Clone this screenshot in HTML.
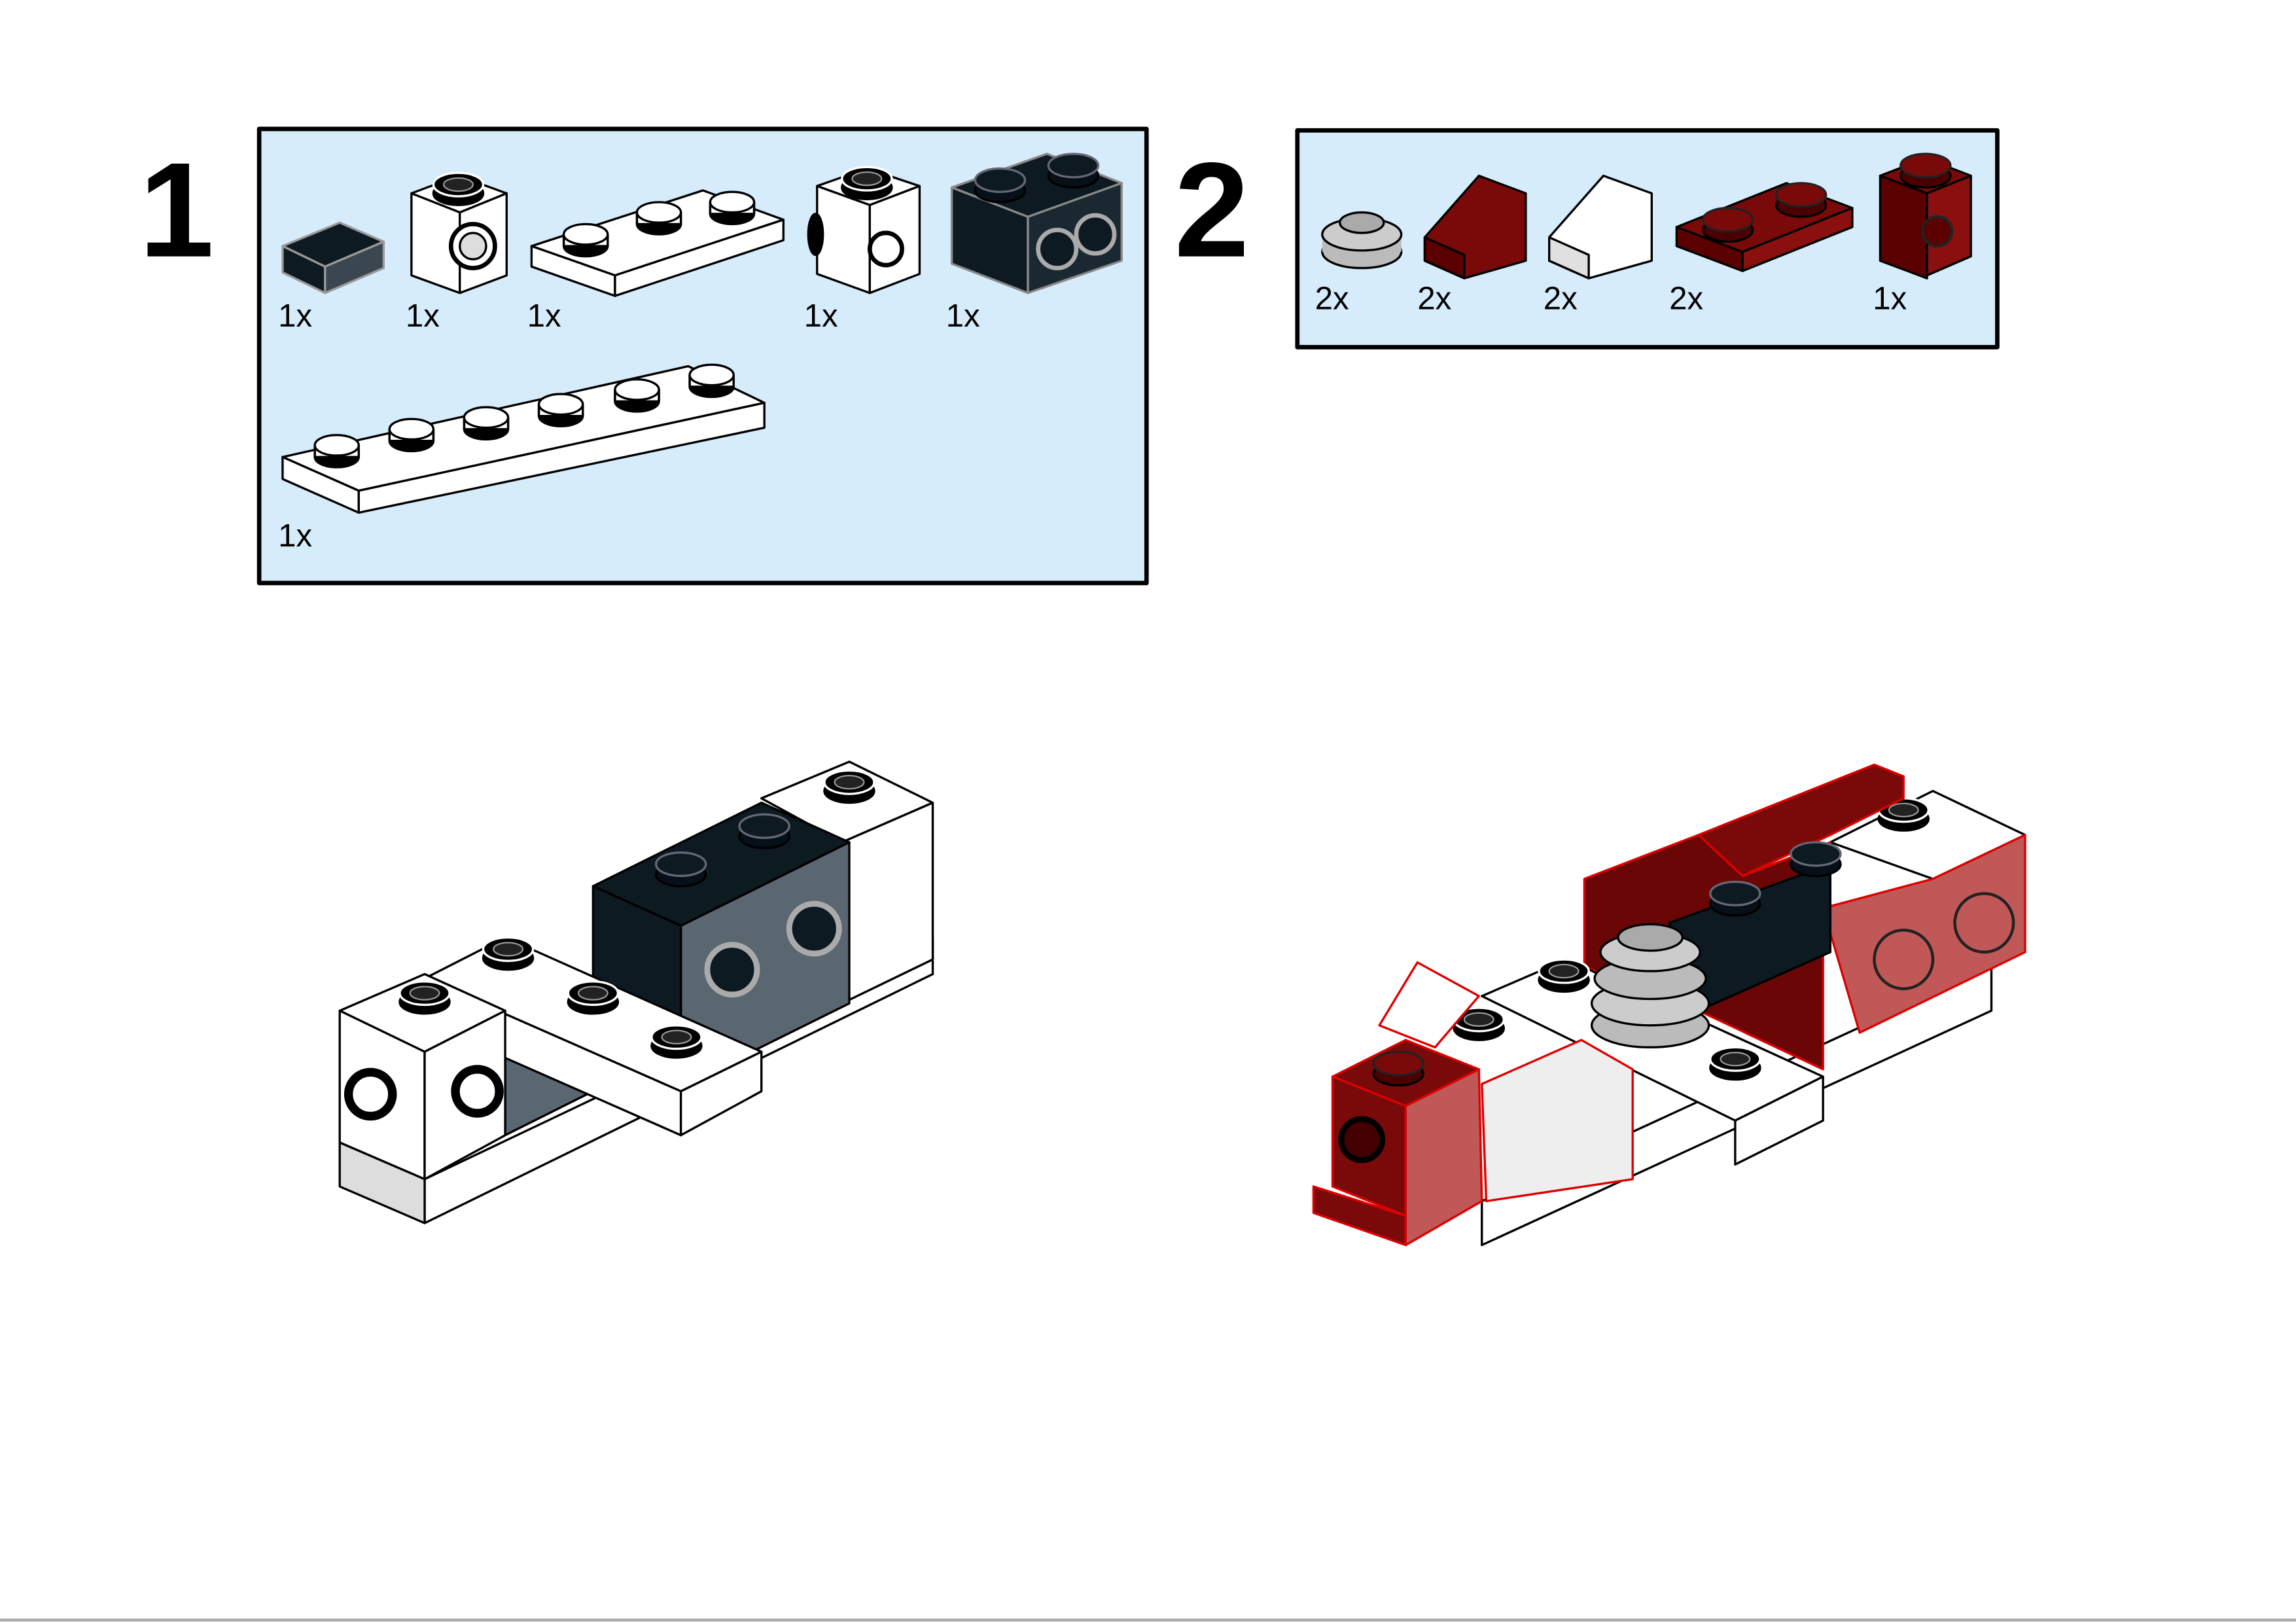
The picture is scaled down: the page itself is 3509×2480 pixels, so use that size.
<!DOCTYPE html>
<html><head><meta charset="utf-8"><style>
html,body{margin:0;padding:0;background:#fff;}
svg{display:block;}
text{font-family:"Liberation Sans",sans-serif;}
</style></head><body>
<svg width="3509" height="2480" viewBox="0 0 1568 1108" preserveAspectRatio="none" xmlns="http://www.w3.org/2000/svg">
<defs>
<g id="wstud"><ellipse cx="0" cy="6" rx="15" ry="7" fill="#000"/><rect x="-15" y="-2" width="30" height="8" fill="#fff"/><path d="M-15 -2 V6 M15 -2 V6" stroke="#000" stroke-width="1.5"/><ellipse cx="0" cy="-2" rx="15" ry="7" fill="#fff" stroke="#000" stroke-width="1.5"/></g>
<g id="bstud"><ellipse cx="0" cy="4" rx="17" ry="8" fill="#000"/><ellipse cx="0" cy="-2" rx="17" ry="8" fill="#000" stroke="#fff" stroke-width="1.5"/><ellipse cx="0" cy="-2" rx="10" ry="4.5" fill="#222" stroke="#999" stroke-width="1"/></g>
<g id="dstud"><ellipse cx="0" cy="5" rx="17" ry="8" fill="#061018"/><ellipse cx="0" cy="-2" rx="17" ry="8" fill="#0d1a22" stroke="#667" stroke-width="1.5"/></g>
<g id="rstud"><ellipse cx="0" cy="5" rx="17" ry="8" fill="#4a0000"/><ellipse cx="0" cy="-2" rx="17" ry="8" fill="#7a0a0a" stroke="#222" stroke-width="1.5"/></g>
</defs>
<g stroke="#000" stroke-width="1.5" stroke-linejoin="round">

<text x="95" y="175" font-size="92" font-weight="bold" stroke="none">1</text>
<text x="802" y="175" font-size="92" font-weight="bold" stroke="none">2</text>

<rect x="177" y="88" width="606" height="310" fill="#d6ecfb" stroke-width="3"/>
<polygon points="193,168 232,152 262,165 222,182" fill="#0d1a22" stroke="#999"/>
<polygon points="193,168 222,182 222,200 193,186" fill="#0d1a22" stroke="#999"/>
<polygon points="222,182 262,165 262,183 222,200" fill="#3a4650" stroke="#999"/>
<polygon points="281,132 313,120 346,132 314,145" fill="#fff"/>
<polygon points="281,132 314,145 314,200 281,188" fill="#fff"/>
<polygon points="314,145 346,132 346,188 314,200" fill="#fff"/>
<circle cx="323" cy="168" r="15" fill="#fff" stroke="#000" stroke-width="3"/><circle cx="323" cy="168" r="9" fill="#ddd"/>
<use href="#bstud" x="313" y="128"/>
<polygon points="363,168 480,130 535,150 420,188" fill="#fff"/>
<polygon points="363,168 420,188 420,202 363,182" fill="#fff"/>
<polygon points="420,188 535,150 535,164 420,202" fill="#fff"/>
<use href="#wstud" x="400" y="162"/><use href="#wstud" x="450" y="147"/><use href="#wstud" x="500" y="140"/>
<polygon points="558,127 592,115 628,127 594,140" fill="#fff"/>
<polygon points="558,127 594,140 594,200 558,187" fill="#fff"/>
<polygon points="594,140 628,127 628,187 594,200" fill="#fff"/>
<ellipse cx="557" cy="160" rx="5" ry="14" fill="#000"/>
<circle cx="605" cy="170" r="11" fill="#fff" stroke="#000" stroke-width="3"/>
<use href="#bstud" x="592" y="124"/>
<polygon points="650,128 715,105 766,125 702,148" fill="#0d1a22" stroke="#888"/>
<polygon points="650,128 702,148 702,200 650,180" fill="#0d1a22" stroke="#888"/>
<polygon points="702,148 766,125 766,178 702,200" fill="#1a2832" stroke="#888"/>
<circle cx="722" cy="170" r="13" fill="#0d1a22" stroke="#aaa" stroke-width="3"/><circle cx="748" cy="160" r="13" fill="#0d1a22" stroke="#aaa" stroke-width="3"/>
<use href="#dstud" x="683" y="125"/><use href="#dstud" x="733" y="115"/>
<polygon points="193,312 470,250 522,275 245,335" fill="#fff"/>
<polygon points="193,312 245,335 245,350 193,327" fill="#fff"/>
<polygon points="245,335 522,275 522,292 245,350" fill="#fff"/>
<use href="#wstud" x="230" y="306"/><use href="#wstud" x="281" y="295"/><use href="#wstud" x="332" y="287"/><use href="#wstud" x="383" y="278"/><use href="#wstud" x="435" y="268"/><use href="#wstud" x="486" y="258"/>
<g stroke="none" font-size="22" fill="#000">
<text x="190" y="223">1x</text><text x="277" y="223">1x</text><text x="360" y="223">1x</text><text x="549" y="223">1x</text><text x="646" y="223">1x</text><text x="190" y="373">1x</text>
</g>

<rect x="886" y="89" width="478" height="148" fill="#d6ecfb" stroke-width="3"/>
<ellipse cx="930" cy="172" rx="27" ry="11" fill="#bbb"/><rect x="903" y="160" width="54" height="12" fill="#bbb" stroke="none"/>
<ellipse cx="930" cy="160" rx="27" ry="11" fill="#ccc"/><ellipse cx="930" cy="152" rx="15" ry="7" fill="#aaa"/>
<polygon points="973,162 1010,120 1042,132 1042,178 1000,190 973,178" fill="#7a0a0a"/>
<polygon points="973,162 1000,174 1000,190 973,178" fill="#5a0000"/>
<polygon points="1058,162 1095,120 1128,132 1128,178 1085,190 1058,178" fill="#fff"/>
<polygon points="1058,162 1085,174 1085,190 1058,178" fill="#e0e0e0"/>
<polygon points="1145,155 1220,125 1265,142 1190,172" fill="#7a0a0a"/>
<polygon points="1145,155 1190,172 1190,185 1145,168" fill="#5a0000"/>
<polygon points="1190,172 1265,142 1265,155 1190,185" fill="#8a1010"/>
<use href="#rstud" x="1180" y="152"/><use href="#rstud" x="1230" y="135"/>
<polygon points="1284,120 1315,108 1346,120 1316,132" fill="#7a0a0a"/>
<polygon points="1284,120 1316,132 1316,190 1284,178" fill="#5a0000"/>
<polygon points="1316,132 1346,120 1346,175 1316,188" fill="#8a1010"/>
<circle cx="1323" cy="158" r="10" fill="#5a0000" stroke="#222" stroke-width="2"/>
<use href="#rstud" x="1315" y="115"/>
<g stroke="none" font-size="22" fill="#000">
<text x="898" y="211">2x</text><text x="968" y="211">2x</text><text x="1054" y="211">2x</text><text x="1140" y="211">2x</text><text x="1279" y="211">1x</text>
</g>

<!-- Left model -->
<polygon points="290,805 637,640 637,665 290,835" fill="#fff"/>
<polygon points="520,545 580,520 637,548 575,575" fill="#fff"/>
<polygon points="575,575 637,548 637,655 575,685" fill="#fff"/>
<use href="#bstud" x="580" y="536"/>
<polygon points="405,605 520,548 580,575 465,632" fill="#0d1a22"/>
<polygon points="465,632 580,575 580,685 465,742" fill="#5a6670"/>
<polygon points="405,605 465,632 465,742 405,715" fill="#0d1a22"/>
<circle cx="500" cy="662" r="17" fill="#0d1a22" stroke="#aaa" stroke-width="4"/>
<circle cx="556" cy="634" r="17" fill="#0d1a22" stroke="#aaa" stroke-width="4"/>
<use href="#dstud" x="465" y="592"/><use href="#dstud" x="522" y="566"/>
<polygon points="345,700 405,715 405,745 345,775" fill="#5a6670"/>
<polygon points="290,668 345,640 520,718 465,745" fill="#fff"/>
<polygon points="290,668 465,745 465,775 290,698" fill="#fff"/>
<polygon points="465,745 520,718 520,745 465,775" fill="#fff"/>
<use href="#bstud" x="347" y="650"/><use href="#bstud" x="405" y="680"/><use href="#bstud" x="462" y="710"/>
<polygon points="232,690 290,665 345,690 290,718" fill="#fff"/>
<polygon points="232,690 290,718 290,805 232,780" fill="#fff"/>
<polygon points="290,718 345,690 345,775 290,805" fill="#fff"/>
<polygon points="232,780 290,805 290,835 232,810" fill="#ddd"/>
<circle cx="253" cy="747" r="15" fill="#fff" stroke="#000" stroke-width="6"/>
<circle cx="326" cy="745" r="15" fill="#fff" stroke="#000" stroke-width="6"/>
<use href="#bstud" x="290" y="680"/>

<!-- Right model -->
<polygon points="1012,820 1360,660 1360,690 1012,850" fill="#fff"/>
<polygon points="1250,575 1320,540 1383,570 1320,600" fill="#fff"/>
<use href="#bstud" x="1300" y="555"/>
<polygon points="1160,570 1280,522 1300,530 1300,545 1250,570 1190,598" fill="#7a0a0a" stroke="#d00"/>
<polygon points="1245,620 1320,600 1383,570 1383,650 1270,705" fill="#c05858" stroke="#d00"/>
<circle cx="1300" cy="655" r="20" fill="#c05858" stroke="#222" stroke-width="2"/><circle cx="1355" cy="630" r="20" fill="#c05858" stroke="#222" stroke-width="2"/>
<polygon points="1082,600 1160,570 1190,598 1250,575 1245,620 1245,730 1160,690 1082,660" fill="#6a0606" stroke="#d00"/>
<polygon points="1140,630 1250,590 1250,650 1160,690" fill="#0d1a22"/>
<use href="#dstud" x="1185" y="612"/><use href="#dstud" x="1240" y="585"/>
<polygon points="1012,680 1070,655 1245,735 1185,765" fill="#fff"/>
<polygon points="1185,765 1245,735 1245,765 1185,795" fill="#fff"/>
<use href="#bstud" x="1068" y="665"/><use href="#bstud" x="1185" y="725"/><use href="#bstud" x="1010" y="698"/>
<ellipse cx="1127" cy="700" rx="40" ry="15" fill="#bbb"/><ellipse cx="1127" cy="685" rx="40" ry="15" fill="#ccc"/><ellipse cx="1127" cy="668" rx="38" ry="14" fill="#bbb"/><ellipse cx="1127" cy="650" rx="34" ry="13" fill="#ccc"/><ellipse cx="1127" cy="640" rx="22" ry="9" fill="#aaa"/>
<polygon points="942,700 968,657 1010,680 980,715" fill="#fff" stroke="#d00"/>
<polygon points="1012,740 1080,710 1115,730 1115,805 1015,820" fill="#eee" stroke="#d00"/>
<polygon points="910,735 960,710 1010,730 960,755" fill="#7a0a0a" stroke="#d00"/>
<polygon points="910,735 960,755 960,830 910,810" fill="#7a0a0a" stroke="#d00"/>
<polygon points="960,755 1010,730 1012,820 960,850" fill="#c05858" stroke="#d00"/>
<polygon points="897,810 960,830 960,850 897,828" fill="#7a0a0a" stroke="#d00"/>
<circle cx="930" cy="778" r="14" fill="#400" stroke="#000" stroke-width="4"/>
<use href="#rstud" x="955" y="728"/>
</g>
<line x1="0" y1="1106" x2="1568" y2="1106" stroke="#aaa" stroke-width="2"/>
</svg>
</body></html>
